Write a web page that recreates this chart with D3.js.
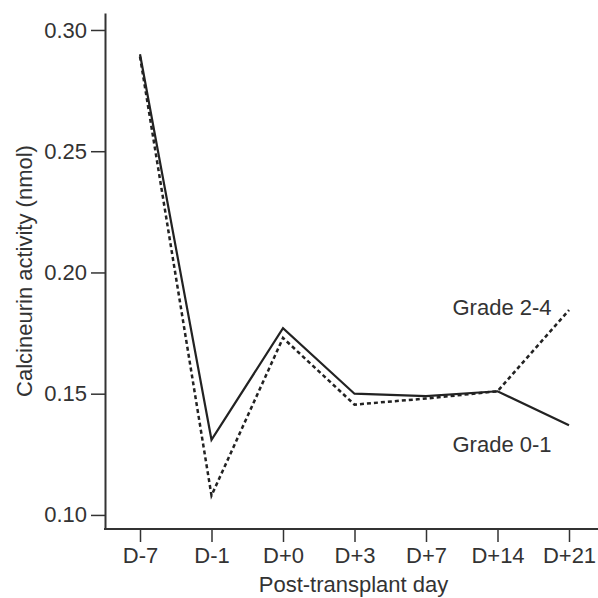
<!DOCTYPE html>
<html>
<head>
<meta charset="utf-8">
<script src="https://cdn.jsdelivr.net/npm/d3@7"></script>
<style>
  html, body { margin: 0; padding: 0; background: #fff; }
  svg { display: block; }
</style>
</head>
<body>
<div id="chart"></div>
<script>
const days = ['D-7', 'D-1', 'D+0', 'D+3', 'D+7', 'D+14', 'D+21'];
const grade01 = [0.290, 0.131, 0.177, 0.150, 0.149, 0.151, 0.137];
const grade24 = [0.289, 0.108, 0.173, 0.1455, 0.148, 0.151, 0.1845];
const yTicks = [0.10, 0.15, 0.20, 0.25, 0.30];

const width = 598, height = 598;
const ink = '#333', fontSize = 22;
const font = 'Liberation Sans, Arial, sans-serif';

const svg = d3.select('#chart')
    .append('svg')
    .attr('width', width)
    .attr('height', height)
    .style('font-family', font);

/* y scale: 0.10 sits at 515px, 0.30 at 30px, axis runs a bit beyond */
const yScale = d3.scaleLinear()
    .domain([0.0942, 0.307])
    .range([529, 13]);

/* x scale for the seven sampling days */
const xScale = d3.scalePoint()
    .domain(days)
    .range([140, 569]);

const axisLeft = 105, axisBottom = 529;

/* y axis */
const gy = svg.append('g')
    .attr('transform', `translate(${axisLeft},0)`)
    .call(d3.axisLeft(yScale)
        .tickValues(yTicks)
        .tickFormat(d3.format('.2f'))
        .tickSize(14)
        .tickSizeOuter(0)
        .tickPadding(4));
gy.select('.domain').attr('stroke', ink).attr('stroke-width', 2);
gy.selectAll('.tick line').attr('stroke', ink).attr('stroke-width', 1.5);
gy.selectAll('.tick text')
    .attr('fill', ink)
    .style('font-size', fontSize + 'px')
    .style('font-family', font);

/* x axis */
const gx = svg.append('g')
    .attr('transform', `translate(0,${axisBottom})`)
    .call(d3.axisBottom(xScale)
        .tickSize(13)
        .tickSizeOuter(0)
        .tickPadding(5));
gx.select('.domain').remove();
gx.append('line')
    .attr('x1', axisLeft - 1)
    .attr('x2', width)
    .attr('stroke', ink)
    .attr('stroke-width', 2);
gx.selectAll('.tick line').attr('stroke', ink).attr('stroke-width', 1.5);
gx.selectAll('.tick text')
    .attr('fill', ink)
    .style('font-size', fontSize + 'px')
    .style('font-family', font);

/* lines */
const line = d3.line()
    .x((d, i) => xScale(days[i]))
    .y(d => yScale(d));

svg.append('path')
    .datum(grade24)
    .attr('fill', 'none')
    .attr('stroke', '#222')
    .attr('stroke-width', 2.5)
    .attr('stroke-dasharray', '4,3')
    .attr('d', line);

svg.append('path')
    .datum(grade01)
    .attr('fill', 'none')
    .attr('stroke', '#222')
    .attr('stroke-width', 2.2)
    .attr('d', line);

/* series labels */
svg.append('text')
    .text('Grade 2-4')
    .attr('x', xScale('D+14') - 45)
    .attr('y', yScale(grade24[6]) + 5)
    .attr('fill', ink)
    .style('font-size', fontSize + 'px');

svg.append('text')
    .text('Grade 0-1')
    .attr('x', xScale('D+14') - 45)
    .attr('y', yScale(grade01[6]) + 27)
    .attr('fill', ink)
    .style('font-size', fontSize + 'px');

/* axis titles */
svg.append('text')
    .text('Post-transplant day')
    .attr('x', (axisLeft + width) / 2 + 2)
    .attr('y', 592)
    .attr('text-anchor', 'middle')
    .attr('fill', ink)
    .style('font-size', fontSize + 'px');

svg.append('text')
    .text('Calcineurin activity (nmol)')
    .attr('transform', `translate(32,${(13 + axisBottom) / 2}) rotate(-90)`)
    .attr('text-anchor', 'middle')
    .attr('fill', ink)
    .style('font-size', fontSize + 'px');
</script>
</body>
</html>
